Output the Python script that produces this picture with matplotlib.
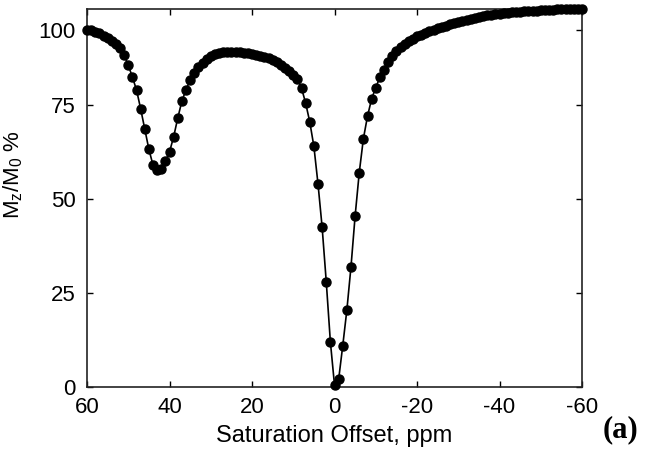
import matplotlib
matplotlib.use("Agg")
import matplotlib.pyplot as plt
import numpy as np

# Saturation offset (ppm) and normalised signal Mz/M0 (%)
offset_ppm = list(range(60, -61, -1))
mz_m0 = [
    95.0, 94.8, 94.4, 94.0, 93.4, 92.8, 92.0, 91.2, 90.1, 88.2,   # 60..51
    85.6, 82.4, 79.0, 74.0, 68.6, 63.2, 59.0, 57.6, 58.0, 60.0,   # 50..41
    62.5, 66.5, 71.5, 76.0, 79.0, 81.6, 83.5, 85.0, 86.2, 87.2,   # 40..31
    88.0, 88.5, 88.8, 89.0, 89.1, 89.1, 89.1, 89.0, 88.9, 88.8,   # 30..21
    88.6, 88.4, 88.1, 87.8, 87.4, 86.9, 86.3, 85.6, 84.8, 84.0,   # 20..11
    83.0, 81.8, 79.5, 75.5, 70.5, 64.0, 54.0, 42.5, 28.0, 12.0,   # 10..1
    0.5,                                                          # 0
    2.0, 11.0, 20.5, 32.0, 45.5, 57.0, 66.0, 72.0, 76.6, 79.6,    # -1..-10
    82.3, 84.4, 86.3, 88.0, 89.4, 90.4, 91.2, 91.9, 92.6, 93.2,   # -11..-20
    93.7, 94.2, 94.6, 95.0, 95.4, 95.8, 96.1, 96.5, 96.8, 97.1,   # -21..-30
    97.4, 97.7, 97.9, 98.2, 98.4, 98.6, 98.8, 99.0, 99.1, 99.2,   # -31..-40
    99.4, 99.5, 99.6, 99.7, 99.8, 99.9, 100.0, 100.0, 100.1, 100.2, # -41..-50
    100.2, 100.3, 100.3, 100.4, 100.4, 100.4, 100.5, 100.5, 100.5, 100.5, # -51..-60
]

xticks = [60, 40, 20, 0, -20, -40, -60]
xticklabels = ["60", "40", "20", "0", "-20", "-40", "-60"]
yticks = [0, 25, 50, 75, 95]
yticklabels = ["0", "25", "50", "75", "100"]

plt.rcParams['font.family'] = ['Liberation Sans', 'DejaVu Sans']

fig = plt.figure(figsize=(6.45, 4.63), dpi=100)
ax = fig.add_axes([87/645, 1-387/463, (582-87)/645, (387-9)/463])

ax.plot(offset_ppm, mz_m0, color='black', lw=1.2, marker='o', ms=6.5,
        mfc='black', mec='black', clip_on=False, zorder=3)

ax.set_xlim(60, -60)
ax.set_ylim(0, 100.5)
ax.set_xticks(xticks)
ax.set_xticklabels(xticklabels)
ax.set_yticks(yticks)
ax.set_yticklabels(yticklabels)

ax.tick_params(direction='in', length=4, width=1, top=True, right=True,
               labelsize=16, pad=7, colors='black')
ax.tick_params(axis='y', pad=8)
for s in ax.spines.values():
    s.set_linewidth(1.2)
    s.set_color('#222222')

ax.set_xlabel("Saturation Offset, ppm", fontsize=17, labelpad=5)
ax.set_ylabel(r"M$_\mathregular{z}$/M$_\mathregular{0}$ %", fontsize=16)
ax.yaxis.set_label_coords((25-87)/495, (387-175)/378)

fig.text(621/645, 1-430/463, "(a)", fontsize=22, fontweight='bold',
         family='Liberation Serif', ha='center', va='center')

fig.savefig("out.png", dpi=100)
